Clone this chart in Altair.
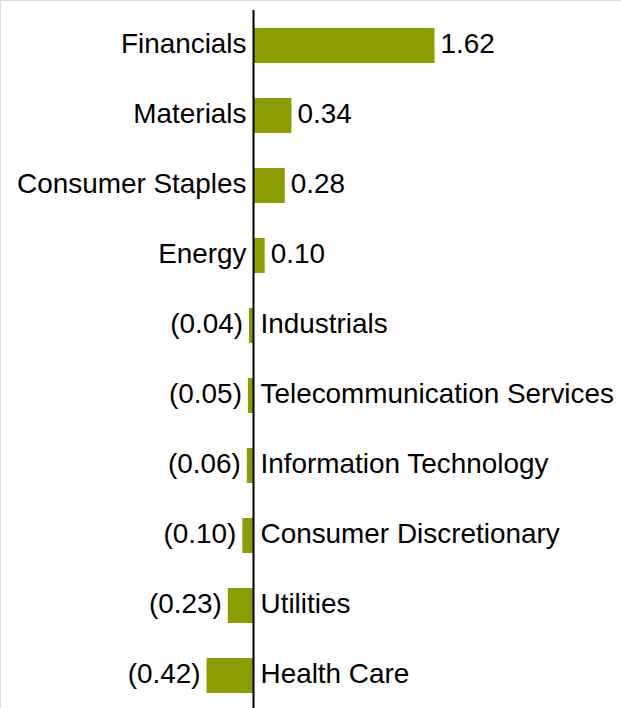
import altair as alt
import pandas as pd

categories = ["Financials", "Materials", "Consumer Staples", "Energy", "Industrials",
              "Telecommunication Services", "Information Technology",
              "Consumer Discretionary", "Utilities", "Health Care"]
values = [1.62, 0.34, 0.28, 0.10, -0.04, -0.05, -0.06, -0.10, -0.23, -0.42]

df = pd.DataFrame({"category": categories, "value": values})
df["label"] = [f"{v:.2f}" if v >= 0 else f"({abs(v):.2f})" for v in values]
df["zero"] = 0.0

W, H = 621, 708
ZERO = 253.5
PX_PER_UNIT = 111.73
x_scale = alt.Scale(domain=[-ZERO / PX_PER_UNIT, (W - ZERO) / PX_PER_UNIT], nice=False, zero=False)
y_scale = alt.Scale(domain=categories, paddingInner=0.5, paddingOuter=0.307, align=0.651)

FONT = "Liberation Sans"
FS = 27.9
COLOR = "#8b9d00"

base = alt.Chart(df)
X = alt.X("value:Q", scale=x_scale, axis=None)
X0 = alt.X("zero:Q", scale=x_scale, axis=None)
Y = alt.Y("category:N", scale=y_scale, axis=None, sort=categories)

bars = base.mark_bar(color=COLOR).encode(x=X, x2=alt.X2("zero:Q"), y=Y)

rule = alt.Chart(pd.DataFrame({"z": [0.0]})).mark_rule(color="black", strokeWidth=2).encode(
    x=alt.X("z:Q", scale=x_scale, axis=None), y=alt.value(10), y2=alt.value(H)
)

pos = base.transform_filter("datum.value >= 0")
neg = base.transform_filter("datum.value < 0")

txt = dict(baseline="middle", font=FONT, fontSize=FS, color="black")
cat_pos = pos.mark_text(align="right", dx=-7, **txt).encode(x=X0, y=Y, text="category:N")
cat_neg = neg.mark_text(align="left", dx=7, **txt).encode(x=X0, y=Y, text="category:N")
val_pos = pos.mark_text(align="left", dx=6, **txt).encode(x=X, y=Y, text="label:N")
val_neg = neg.mark_text(align="right", dx=-6, **txt).encode(x=X, y=Y, text="label:N")

chart = alt.layer(bars, rule, cat_pos, cat_neg, val_pos, val_neg).properties(
    width=W, height=H, autosize=alt.AutoSizeParams(type="none"), padding=0
).configure_view(stroke=None).configure(background="white")

chart.save("out.html", embed_options={"renderer": "svg", "actions": False})
